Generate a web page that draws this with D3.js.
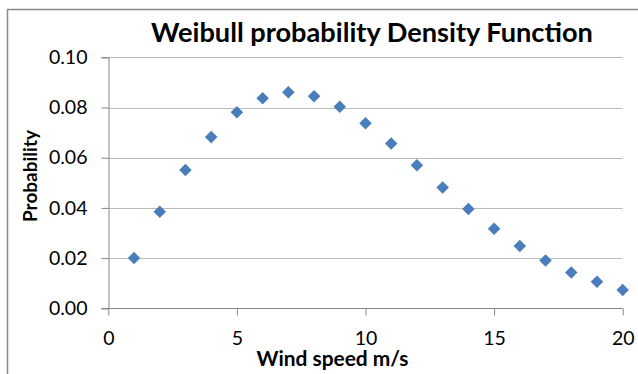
<!DOCTYPE html>
<html>
<head>
<meta charset="utf-8">
<script src="https://cdn.jsdelivr.net/npm/d3@7/dist/d3.min.js"></script>
<style>
  html, body { margin: 0; padding: 0; background: #fff; }
  svg { display: block; }
  text { font-family: Lato, "Open Sans", sans-serif; fill: #000; }
</style>
</head>
<body>
<script>
// Wind speed (m/s) and the Weibull probability density at each speed
const windSpeeds = [1, 2, 3, 4, 5, 6, 7, 8, 9, 10, 11, 12, 13, 14, 15, 16, 17, 18, 19, 20];
const probability = [0.0200, 0.0385, 0.0551, 0.0682, 0.0781, 0.0837, 0.0861, 0.0845, 0.0803, 0.0737,
                     0.0657, 0.0570, 0.0481, 0.0396, 0.0317, 0.0248, 0.0190, 0.0143, 0.0106, 0.0073];
const xTicks = [0, 5, 10, 15, 20];
const yTicks = [0, 0.02, 0.04, 0.06, 0.08, 0.10];
const chartTitle = "Weibull probability Density Function";
const xTitle = "Wind speed m/s";
const yTitle = "Probability";

const W = 638, H = 374;
const plot = { left: 108.3, right: 622.7, top: 57.3, bottom: 308.3 };
const axisColor = "#868686", gridColor = "#bcbcbc", markerColor = "#4a7ebb";

const svg = d3.select("body").append("svg").attr("width", W).attr("height", H);

// chart frame
svg.append("rect")
  .attr("x", 7.5).attr("y", 9.5).attr("width", 800).attr("height", 600)
  .attr("fill", "#fff").attr("stroke", "#8a8a8a").attr("stroke-width", 1.5);

const x = d3.scaleLinear().domain([0, 20]).range([plot.left, plot.right]);
const y = d3.scaleLinear().domain([0, 0.10]).range([plot.bottom, plot.top]);

// scale a text element so its rendered width equals target
function fitWidth(sel, target) {
  const node = sel.node();
  const fs = parseFloat(sel.attr("font-size"));
  const w = node.getComputedTextLength();
  if (w > 0) sel.attr("font-size", (fs * target / w).toFixed(2));
  return sel;
}

// horizontal gridlines
svg.append("g")
  .selectAll("line")
  .data(yTicks.filter(d => d > 0))
  .join("line")
  .attr("x1", plot.left).attr("x2", plot.right)
  .attr("y1", d => Math.round(y(d)) + 0.5).attr("y2", d => Math.round(y(d)) + 0.5)
  .attr("stroke", gridColor).attr("stroke-width", 1.2);

// y axis
const yAxis = svg.append("g")
  .attr("transform", `translate(${Math.round(plot.left) + 0.5},0)`)
  .call(d3.axisLeft(y).tickValues(yTicks).tickFormat(d3.format(".2f")).tickSize(7).tickPadding(14));
yAxis.select(".domain").attr("stroke", axisColor);
yAxis.selectAll(".tick line").attr("stroke", axisColor);
yAxis.selectAll(".tick text").attr("font-size", 19.5).attr("font-family", "Lato, sans-serif").attr("fill", "#000");

// x axis
const xAxis = svg.append("g")
  .attr("transform", `translate(0,${Math.round(plot.bottom) + 0.5})`)
  .call(d3.axisBottom(x).tickValues(xTicks).tickFormat(d3.format("d")).tickSize(7).tickPadding(16));
xAxis.select(".domain").attr("stroke", axisColor).attr("d", `M${plot.left - 7},0H${plot.right}`);
xAxis.selectAll(".tick line").attr("stroke", axisColor);
xAxis.selectAll(".tick text").attr("font-size", 19.5).attr("font-family", "Lato, sans-serif").attr("fill", "#000");

// markers
const diamond = d3.symbol().type(d3.symbolDiamond2).size(100);
svg.append("g")
  .selectAll("path")
  .data(windSpeeds.map((s, i) => ({ s, p: probability[i] })))
  .join("path")
  .attr("d", diamond)
  .attr("transform", d => `translate(${x(d.s)},${y(d.p)})`)
  .attr("fill", markerColor);

// titles
const t = svg.append("text")
  .attr("x", 372).attr("y", 42).attr("text-anchor", "middle")
  .attr("font-weight", "bold").attr("font-size", 24).text(chartTitle);
fitWidth(t, 442);

const xt = svg.append("text")
  .attr("x", 332.5).attr("y", 366).attr("text-anchor", "middle")
  .attr("font-weight", "bold").attr("font-size", 20).text(xTitle);
fitWidth(xt, 152);

const yt = svg.append("text")
  .attr("transform", "translate(37,176) rotate(-90)").attr("text-anchor", "middle")
  .attr("font-weight", "bold").attr("font-size", 20).text(yTitle);
fitWidth(yt, 92);
</script>
</body>
</html>
